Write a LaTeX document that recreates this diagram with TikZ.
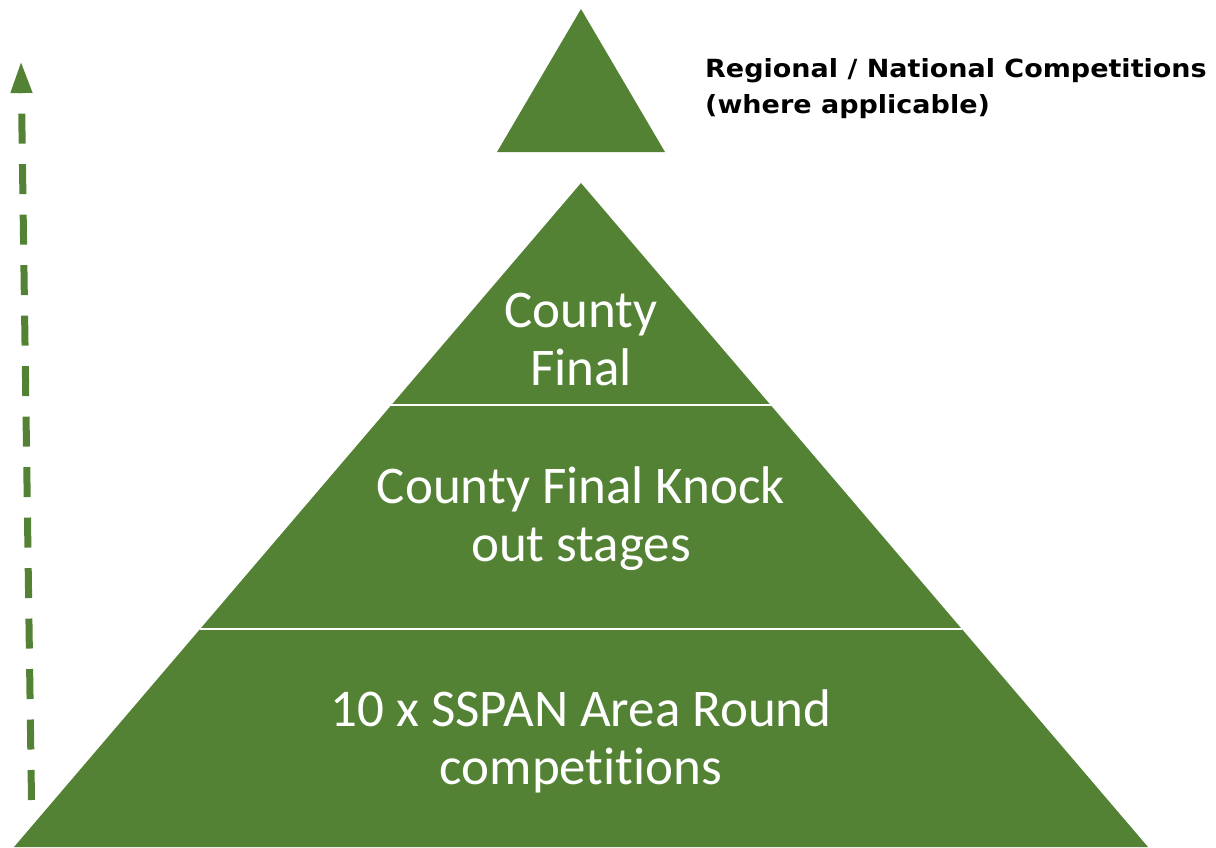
\documentclass[tikz,border=0pt]{standalone}
\usepackage{fontspec}
\setmainfont[Ligatures=NoCommon]{Carlito}
\newfontfamily\headfont[FakeStretch=1.08,Ligatures=NoCommon]{DejaVu Sans}
\usetikzlibrary{arrows.meta}
\definecolor{pgreen}{HTML}{548235}
\begin{document}
\begin{tikzpicture}[x=1pt,y=-1pt,
  tier/.style={fill=pgreen},
  sep/.style={draw=white,line width=2.5pt},
  lbl/.style={text=white,font=\fontsize{53}{58}\selectfont,anchor=base,inner sep=0pt},
  head/.style={font=\headfont\bfseries\fontsize{25}{30}\selectfont,anchor=base west,inner sep=0pt},
  climb/.style={draw=pgreen,line width=7pt,dash pattern=on 30pt off 20.5pt,-{Triangle[width=20pt,length=32pt]}}]
\useasboundingbox (0,0) rectangle (1216,847);
% small top triangle
\coordinate (ta) at (581,9);
\coordinate (tl) at (497,152);
\coordinate (tr) at (665,152);
\fill[tier] (ta) -- (tl) -- (tr) -- cycle;
% main pyramid
\coordinate (pa) at (581,183);
\coordinate (pl) at (14,847);
\coordinate (pr) at (1148,847);
\fill[tier] (pa) -- (pl) -- (pr) -- cycle;
% separators
\coordinate (s1l) at (391.4,405);
\coordinate (s1r) at (770.6,405);
\coordinate (s2l) at (200.1,629);
\coordinate (s2r) at (961.9,629);
\draw[sep] (s1l) -- (s1r);
\draw[sep] (s2l) -- (s2r);
% dashed arrow
\coordinate (abot) at (31.5,800);
\coordinate (atop) at (21,61);
\draw[climb] (abot) -- (atop);
% labels
\node[lbl] (t1a) at (581,327) {County};
\node[lbl] (t1b) at (581,385) {Final};
\node[lbl] (t2a) at (581,503) {County Final Knock};
\node[lbl] (t2b) at (581,561) {out stages};
\node[lbl] (t3a) at (581,726) {10 x SSPAN Area Round};
\node[lbl] (t3b) at (581,784) {competitions};
\node[head] (h1) at (705,77) {Regional / National Competitions};
\node[head] (h2) at (705,113) {(where applicable)};
\end{tikzpicture}
\end{document}
